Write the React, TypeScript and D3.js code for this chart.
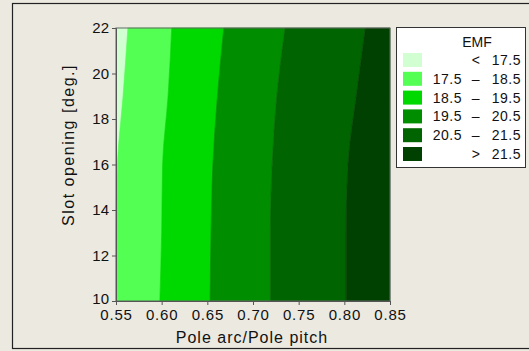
import React, { useEffect, useRef } from 'react';
import * as d3 from 'd3';

// slot opening values where the contour boundaries were read
const slots = [10, 13, 16, 19, 22];
// pole arc / pole pitch position of each EMF level boundary at those slots
const b175 = [0.55, 0.55, 0.5515, 0.5577, 0.563];
const b185 = [0.598, 0.600, 0.601, 0.607, 0.611];
const b195 = [0.653, 0.654, 0.656, 0.661, 0.668];
const b205 = [0.719, 0.719, 0.721, 0.726, 0.735];
const b215 = [0.802, 0.802, 0.804, 0.813, 0.823];

const xTicks = [0.55, 0.6, 0.65, 0.7, 0.75, 0.8, 0.85];
const yTicks = [10, 12, 14, 16, 18, 20, 22];

const legendLabels = [
  ['', '<', '17.5'],
  ['17.5', '–', '18.5'],
  ['18.5', '–', '19.5'],
  ['19.5', '–', '20.5'],
  ['20.5', '–', '21.5'],
  ['', '>', '21.5'],
];
const colors = ['#d2ffd2', '#52ff52', '#00d900', '#008e00', '#006400', '#004000'];

const FONT = '"Liberation Sans", Arial, sans-serif';

const App = () => {
  const ref = useRef<SVGSVGElement>(null);

  useEffect(() => {
    const svg = d3.select(ref.current);
    svg.selectAll('*').remove();

    svg.append('rect').attr('width', 529).attr('height', 351).attr('fill', '#ece9e1');
    svg.append('rect')
      .attr('x', 12.5).attr('y', 3.5).attr('width', 530).attr('height', 345)
      .attr('fill', 'none').attr('stroke', '#222').attr('stroke-width', 1.2);

    const left = 116, right = 390, top = 28, bottom = 301;
    const x = d3.scaleLinear().domain([0.55, 0.85]).range([left, right]);
    const y = d3.scaleLinear().domain([10, 22]).range([bottom, top]);

    const lo = slots.map(() => 0.55);
    const hi = slots.map(() => 0.85);
    const bounds = [lo, b175, b185, b195, b205, b215, hi];

    const area = d3.area<number>()
      .y(i => y(slots[i]))
      .curve(d3.curveMonotoneY);

    const idx = slots.map((_, i) => i);
    for (let k = 0; k < 6; k++) {
      const a = bounds[k], b = bounds[k + 1];
      svg.append('path')
        .attr('d', area.x0(i => x(a[i])).x1(i => x(b[i]))(idx) as string)
        .attr('fill', colors[k])
        .attr('stroke', colors[k])
        .attr('stroke-width', 0.6);
    }

    // plot frame
    svg.append('rect')
      .attr('x', left).attr('y', top).attr('width', right - left).attr('height', bottom - top)
      .attr('fill', 'none').attr('stroke', '#666').attr('stroke-width', 1);

    const xAxis = svg.append('g')
      .attr('transform', `translate(0,${bottom})`)
      .call(d3.axisBottom(x).tickValues(xTicks).tickFormat(d3.format('.2f')).tickSizeOuter(0).tickSize(4).tickPadding(4));
    const yAxis = svg.append('g')
      .attr('transform', `translate(${left},0)`)
      .call(d3.axisLeft(y).tickValues(yTicks).tickSizeOuter(0).tickSize(4).tickPadding(3));
    [xAxis, yAxis].forEach(g => {
      g.select('.domain').attr('stroke', '#555');
      g.selectAll('line').attr('stroke', '#555');
      g.selectAll('text').attr('fill', '#111').style('font-family', FONT).style('font-size', '15px');
    });
    xAxis.selectAll('text').style('letter-spacing', '0.8px');
    yAxis.selectAll('text').filter(d => d === 10).attr('dy', '0.15em');

    svg.append('text')
      .attr('x', 252).attr('y', 343)
      .attr('text-anchor', 'middle')
      .style('font-family', FONT).style('font-size', '16px').style('letter-spacing', '1px').attr('fill', '#111')
      .text('Pole arc/Pole pitch');

    svg.append('text')
      .attr('transform', 'translate(74,145) rotate(-90)')
      .attr('text-anchor', 'middle')
      .style('font-family', FONT).style('font-size', '16px').style('letter-spacing', '1.5px').attr('fill', '#111')
      .text('Slot opening [deg.]');

    // legend
    const lg = svg.append('g');
    lg.append('rect')
      .attr('x', 396.5).attr('y', 27.5).attr('width', 129).attr('height', 140)
      .attr('fill', '#fff').attr('stroke', '#333').attr('stroke-width', 1);
    lg.append('text')
      .attr('x', 477).attr('y', 47).attr('text-anchor', 'middle')
      .style('font-family', FONT).style('font-size', '14px').attr('fill', '#111')
      .text('EMF');
    legendLabels.forEach((lab, i) => {
      const ty = 53 + i * 18.8;
      lg.append('rect')
        .attr('x', 403).attr('y', ty).attr('width', 19).attr('height', 14)
        .attr('fill', colors[i]);
      const t = (xx: number, s: string, anchor: string) =>
        lg.append('text')
          .attr('x', xx).attr('y', ty + 12).attr('text-anchor', anchor)
          .style('font-family', FONT).style('font-size', '14px').style('letter-spacing', '0.5px').attr('fill', '#111')
          .text(s);
      if (lab[0]) t(462, lab[0], 'end');
      t(476, lab[1], 'middle');
      t(521, lab[2], 'end');
    });
  }, []);

  return (
    <svg ref={ref} width={529} height={351} style={{ position: 'absolute', left: 0, top: 0 }} />
  );
};

export default App;
